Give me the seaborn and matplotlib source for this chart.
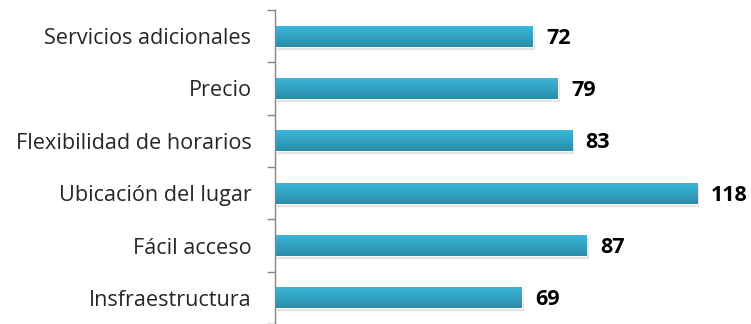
import numpy as np
import pandas as pd
import matplotlib
matplotlib.use("Agg")
import matplotlib.pyplot as plt
import seaborn as sns

categorias = ["Servicios adicionales", "Precio", "Flexibilidad de horarios",
              "Ubicación del lugar", "Fácil acceso", "Insfraestructura"]
valores = [72, 79, 83, 118, 87, 69]

df = pd.DataFrame({"categoria": categorias, "valor": valores})

sns.set_style("white")
plt.rcParams["font.family"] = ["Open Sans", "DejaVu Sans"]

fig = plt.figure(figsize=(7.51, 3.24), dpi=100)
ax = fig.add_axes([275 / 751, 0, 476 / 751, 314 / 324])

sns.barplot(data=df, x="valor", y="categoria", orient="h", color="#31A7C8",
            width=0.4, ax=ax, saturation=1)

# gradiente vertical en cada barra
grad = np.linspace(0, 1, 50).reshape(-1, 1)
cmap = matplotlib.colors.LinearSegmentedColormap.from_list("g", ["#3AB6DA", "#2A8DA8"])
for p in ax.patches:
    x0, y0 = p.get_x(), p.get_y()
    w, h = p.get_width(), p.get_height()
    sh = plt.Rectangle((x0 + 0.6, y0 + 0.06), w, h, color="#000000", alpha=0.12,
                       zorder=1, lw=0)
    ax.add_patch(sh)
    im = ax.imshow(grad, extent=[x0, x0 + w, y0 + h, y0], aspect="auto",
                   cmap=cmap, zorder=2)
    im.set_clip_path(p)
    p.set_zorder(2)

for i, v in enumerate(valores):
    ax.text(v + 3.8, i + 0.04, str(v), va="center", ha="left", fontsize=15.5,
            fontweight="bold", color="black")

ax.set_xlim(0, 133)
ax.set_ylim(len(categorias) - 0.5, -0.5)
ax.set_xlabel("")
ax.set_ylabel("")
ax.set_xticks([])
ax.set_yticks(np.arange(len(categorias)))
ax.set_yticklabels(categorias, fontsize=15.6)
ax.set_yticks(np.arange(len(categorias) + 1) - 0.5, minor=True)
ax.tick_params(axis="y", which="major", length=0, pad=17)
ax.tick_params(axis="y", which="minor", length=6, width=1, color="#868686", left=True)
for s in ["top", "right", "bottom"]:
    ax.spines[s].set_visible(False)
ax.spines["left"].set_color("#868686")
ax.spines["left"].set_linewidth(1)

fig.savefig("out.png", dpi=100)
